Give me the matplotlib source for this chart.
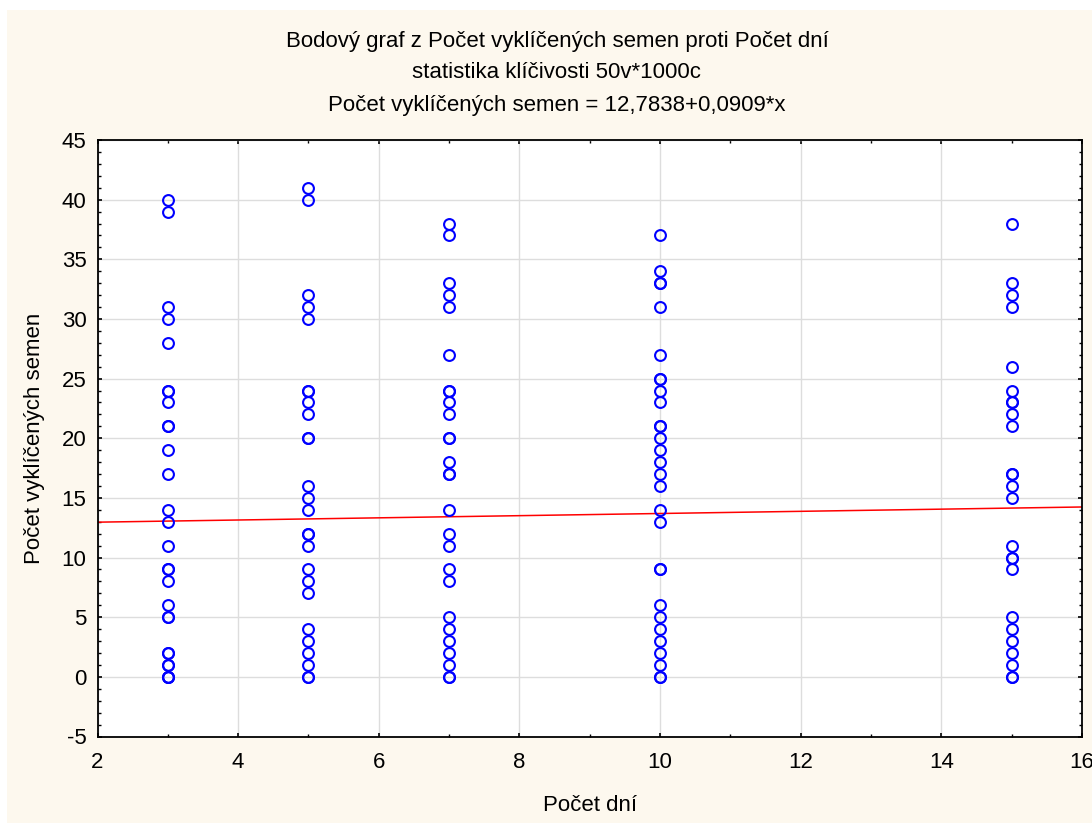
import numpy as np
import matplotlib.pyplot as plt
from matplotlib.patches import Rectangle
from matplotlib.ticker import MultipleLocator

plt.rcParams['font.family'] = ['Liberation Sans', 'DejaVu Sans']
plt.rcParams['axes.unicode_minus'] = False

# Germinated seed counts per number of days
days_3 = [40, 39, 31, 30, 28, 24, 24, 23, 21, 21, 19, 17, 14, 13, 11, 9, 9, 8,
          6, 5, 5, 2, 2, 1, 1, 0, 0, 0]
days_5 = [41, 40, 32, 31, 30, 24, 24, 23, 22, 20, 20, 16, 15, 14, 12, 12, 11,
          9, 8, 7, 4, 3, 2, 1, 0, 0]
days_7 = [38, 37, 33, 32, 31, 27, 24, 24, 23, 22, 20, 20, 18, 17, 17, 14, 12,
          11, 9, 8, 5, 4, 3, 2, 1, 0, 0]
days_10 = [37, 34, 33, 33, 31, 27, 25, 25, 24, 23, 21, 21, 20, 19, 18, 17, 16,
           14, 13, 9, 9, 6, 5, 4, 3, 2, 1, 0, 0]
days_15 = [38, 33, 32, 31, 26, 24, 23, 23, 22, 21, 17, 17, 16, 15, 11, 10, 10,
           9, 5, 4, 3, 2, 1, 0, 0]

groups = {3: days_3, 5: days_5, 7: days_7, 10: days_10, 15: days_15}
x = np.concatenate([[d] * len(v) for d, v in groups.items()])
y = np.concatenate([v for v in groups.values()])

# regression from the chart title
intercept = 12.7838
slope = 0.0909

fs = 16

fig = plt.figure(figsize=(10.92, 8.23), dpi=100, facecolor='white')
fig.patches.append(Rectangle((7 / 1092, 0), 1, 1 - 10 / 823, transform=fig.transFigure,
                             facecolor='#fdf8ee', edgecolor='none', zorder=-1))

ax = fig.add_axes([97.5 / 1092, 1 - 736.5 / 823, (1082 - 97.5) / 1092, (736.5 - 140) / 823])
ax.set_facecolor('white')

ax.plot(x, y, 'o', ms=7.8, mfc='none', mec='#0000ff', mew=1.5, zorder=3)
xx = np.array([2, 16])
ax.plot(xx, intercept + slope * xx, color='#ff0000', lw=1.1, zorder=2)

ax.set_xlim(2, 16)
ax.set_ylim(-5, 45)
ax.xaxis.set_major_locator(MultipleLocator(2))
ax.xaxis.set_minor_locator(MultipleLocator(1))
ax.yaxis.set_major_locator(MultipleLocator(5))
ax.yaxis.set_minor_locator(MultipleLocator(1))
ax.grid(True, which='major', color='#dddddd', lw=1)
ax.set_axisbelow(True)

ax.tick_params(which='both', direction='in', top=True, right=True, labelsize=fs)
ax.tick_params(which='major', length=3, width=1.2)
ax.tick_params(which='minor', length=2, width=1)
ax.tick_params(axis='x', pad=11)
ax.tick_params(axis='y', pad=8)
for s in ax.spines.values():
    s.set_linewidth(1.3)

ax.set_xlabel('Počet dní', fontsize=fs, labelpad=16)
ax.set_ylabel('Počet vyklíčených semen', fontsize=fs, labelpad=12)

fig.text(0.51, 1 - 41 / 823, 'Bodový graf z Počet vyklíčených semen proti Počet dní',
         ha='center', va='center', fontsize=fs)
fig.text(0.51, 1 - 73 / 823, 'statistika klíčivosti 50v*1000c',
         ha='center', va='center', fontsize=fs)
fig.text(0.51, 1 - 105 / 823, 'Počet vyklíčených semen = 12,7838+0,0909*x',
         ha='center', va='center', fontsize=fs)

fig.savefig('out.png', dpi=100)
